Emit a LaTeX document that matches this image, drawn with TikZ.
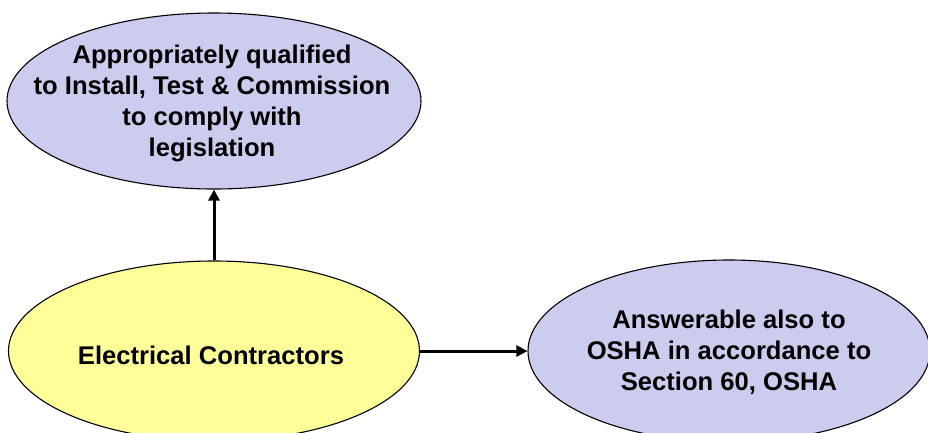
\documentclass[tikz,border=0pt]{standalone}
\usepackage{fontspec}
\setmainfont{Liberation Sans}
\usetikzlibrary{shapes.geometric,arrows.meta}
\definecolor{lav}{RGB}{204,204,238}
\definecolor{lyel}{RGB}{255,255,153}
\tikzset{
  bubble/.style={ellipse, draw=black, line width=1.1pt, inner sep=0pt},
  bubtext/.style={align=center, font=\bfseries\fontsize{25.6}{31}\selectfont, inner sep=0pt},
  conn/.style={line width=3pt, -{Triangle[length=11pt,width=11pt]}}
}
\begin{document}
\begin{tikzpicture}[x=1pt,y=-1pt]
\useasboundingbox (0,0) rectangle (928,432);
\node[bubble, fill=lav, minimum width=414pt, minimum height=176pt] (qual) at (214,101) {};
\node[bubble, fill=lyel, minimum width=411pt, minimum height=180pt] (ec) at (214,351) {};
\node[bubble, fill=lav, minimum width=402pt, minimum height=182pt] (osha) at (729,351) {};
\node[bubtext] (qualt) at (212,103) {Appropriately qualified\\to Install, Test \& Commission\\to comply with\\legislation};
\node[bubtext] (ect) at (211,355) {Electrical Contractors};
\node[bubtext] (oshat) at (729,352) {Answerable also to\\OSHA in accordance to\\Section 60, OSHA};
\draw[conn] (ec.north) -- (qual.south);
\draw[conn] (ec.east) -- (osha.west);
\end{tikzpicture}
\end{document}
